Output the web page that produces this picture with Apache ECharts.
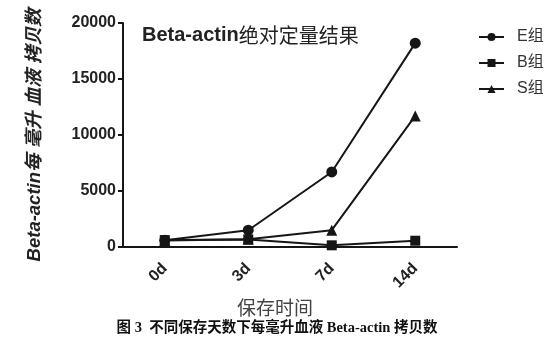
<!DOCTYPE html>
<html>
<head>
<meta charset="utf-8">
<script src="https://cdn.jsdelivr.net/npm/echarts@6/dist/echarts.min.js"></script>
<style>
html,body{margin:0;padding:0;background:#fff;}
#c{width:554px;height:354px;}
</style>
</head>
<body>
<div id="c"></div>
<script>
var categories = ['0d', '3d', '7d', '14d'];
var seriesE = [600, 1500, 6700, 18200];
var seriesB = [620, 680, 150, 560];
var seriesS = [580, 700, 1500, 11700];
var yTicks = [0, 5000, 10000, 15000, 20000];

var LAT = '"Liberation Sans", Arial, "Noto Sans CJK SC", sans-serif';
var ink = '#161616';

var chart = echarts.init(document.getElementById('c'), null, {renderer: 'canvas'});

function mk(name, data, symbol, size) {
  return {
    name: name, type: 'line', data: data,
    symbol: symbol, symbolSize: size, showSymbol: true,
    lineStyle: {color: ink, width: 2},
    itemStyle: {color: ink},
    animation: false
  };
}

chart.setOption({
  animation: false,
  backgroundColor: '#fff',
  title: {
    text: '{a|Beta-actin}{b|绝对定量结果}',
    left: 142, top: 25, padding: 0,
    textStyle: {
      rich: {
        a: {fontFamily: LAT, fontWeight: 'bold', fontSize: 20, color: '#222'},
        b: {fontFamily: '"Noto Sans CJK SC", sans-serif', fontWeight: 'normal', fontSize: 20, color: '#222'}
      }
    }
  },
  legend: {
    orient: 'vertical', left: 473, top: 24, itemWidth: 25, itemHeight: 10, itemGap: 10,
    textStyle: {fontFamily: LAT, fontSize: 16, color: '#333', padding: [0, 0, 0, 8]},
    data: ['E组', 'B组', 'S组']
  },
  grid: {left: 123, right: 97, top: 23, bottom: 107, containLabel: false},
  xAxis: {
    type: 'category', data: categories, boundaryGap: true,
    name: '保存时间', nameLocation: 'middle', nameGap: 46,
    nameTextStyle: {fontFamily: '"Noto Sans CJK SC", sans-serif', fontSize: 19, color: '#444', padding: [0, 30, 0, 0]},
    axisLine: {lineStyle: {color: ink, width: 2}},
    axisTick: {alignWithLabel: true, length: 6, lineStyle: {color: ink, width: 2}},
    axisLabel: {rotate: 45, fontFamily: LAT, fontWeight: 'bold', fontSize: 16, color: '#222', margin: 19}
  },
  yAxis: {
    type: 'value', min: 0, max: 20000, interval: 5000,
    name: 'Beta-actin每 毫升 血液 拷贝数', nameLocation: 'middle', nameGap: 79,
    nameTextStyle: {fontFamily: LAT, fontWeight: 'bold', fontStyle: 'italic', fontSize: 18.5, color: '#222'},
    splitLine: {show: false},
    axisLine: {show: true, lineStyle: {color: ink, width: 2}},
    axisTick: {show: true, length: 5, lineStyle: {color: ink, width: 2}},
    axisLabel: {fontFamily: LAT, fontWeight: 'bold', fontSize: 16, color: '#222', margin: 7,
      formatter: function (v) { return yTicks.indexOf(v) >= 0 ? String(v) : ''; }}
  },
  graphic: [{
    type: 'text', left: 'center', top: 321,
    style: {
      text: '图 3  不同保存天数下每毫升血液 Beta-actin 拷贝数',
      font: 'bold 14.5px "Liberation Serif", "Noto Sans CJK SC", serif',
      fill: '#111'
    }
  }],
  series: [
    mk('E组', seriesE, 'circle', 11),
    mk('B组', seriesB, 'rect', 10),
    mk('S组', seriesS, 'triangle', 11)
  ]
});
</script>
</body>
</html>
